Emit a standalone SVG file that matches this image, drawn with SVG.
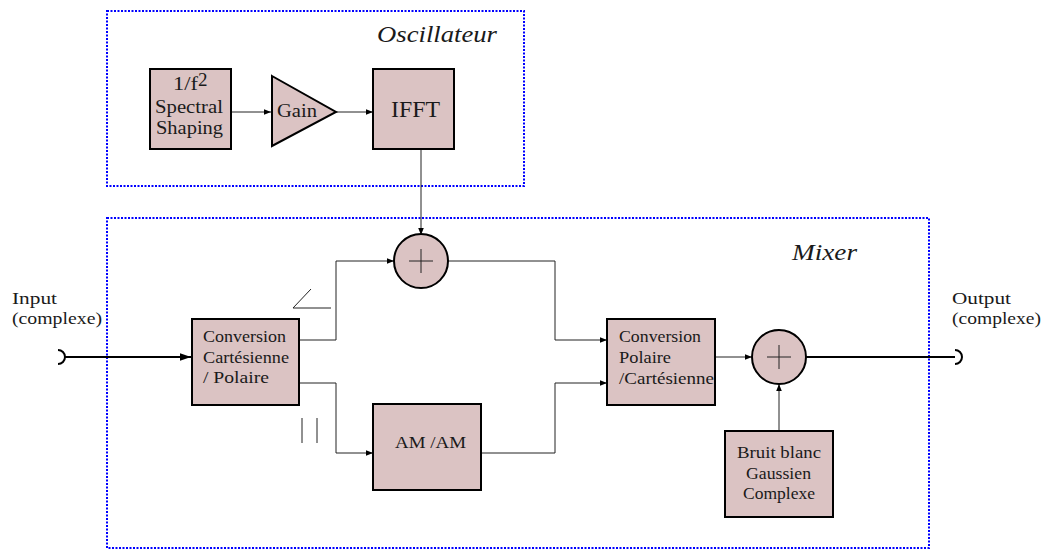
<svg xmlns="http://www.w3.org/2000/svg" width="1045" height="549" viewBox="0 0 1045 549">
<style>
text{font-family:"Liberation Serif","Times New Roman",serif;fill:#1a1a1a}
.blk{fill:#dbc3c3;stroke:#000;stroke-width:2}
.grp{fill:none;stroke:#0000ff;stroke-width:2;stroke-dasharray:2 1.5}
.wire{fill:none;stroke:#222;stroke-width:1}
.thick{fill:none;stroke:#000;stroke-width:2}
.t16{font-size:17px}
.t18{font-size:19px}
.it{font-style:italic;font-size:23px}
</style>
<defs>
<marker id="ar" viewBox="0 0 10 10" refX="10" refY="5" markerWidth="7" markerHeight="7" markerUnits="userSpaceOnUse" orient="auto"><path d="M0,1 L10,5 L0,9 Z" fill="#000"/></marker>
<marker id="arb" viewBox="0 0 10 10" refX="10" refY="5" markerWidth="11" markerHeight="11" markerUnits="userSpaceOnUse" orient="auto"><path d="M0,1.5 L10,5 L0,8.5 Z" fill="#000"/></marker>
</defs>
<rect width="1045" height="549" fill="#fff"/>

<g id="oscillateur">
<rect class="grp" x="107" y="11" width="417" height="175"/>
<text class="it" x="377" y="42" textLength="120" lengthAdjust="spacingAndGlyphs">Oscillateur</text>
</g>
<g id="mixer">
<rect class="grp" x="107" y="218" width="822" height="330"/>
<text class="it" x="792" y="260" textLength="65" lengthAdjust="spacingAndGlyphs">Mixer</text>
</g>

<g id="connectors">
<line class="wire" x1="231" y1="112" x2="271" y2="112" marker-end="url(#ar)"/>
<line class="wire" x1="336" y1="112" x2="373" y2="112" marker-end="url(#ar)"/>
<line class="wire" x1="421" y1="149" x2="421" y2="235" marker-end="url(#ar)"/>
<line class="thick" x1="65" y1="357" x2="191" y2="357" marker-end="url(#arb)"/>
<path class="thick" d="M58,350 A7,7 0 0 1 58,364"/>
<polyline class="wire" points="299,340 336,340 336,261 394,261" marker-end="url(#ar)"/>
<polyline class="wire" points="299,383 336,383 336,453 373,453" marker-end="url(#ar)"/>
<polyline class="wire" points="448,261 555,261 555,340 607,340" marker-end="url(#ar)"/>
<polyline class="wire" points="481,453 555,453 555,383 607,383" marker-end="url(#ar)"/>
<line class="wire" x1="715" y1="357" x2="752" y2="357" marker-end="url(#ar)"/>
<line class="wire" x1="779" y1="431" x2="779" y2="384" marker-end="url(#ar)"/>
<line class="thick" x1="806" y1="357" x2="955" y2="357"/>
<path class="thick" d="M955,350 A7,7 0 0 1 955,364"/>
<polyline class="wire" points="311,289 293,308 331,308"/>
<line class="wire" x1="302" y1="418" x2="302" y2="443"/>
<line class="wire" x1="317" y1="418" x2="317" y2="443"/>
</g>

<g id="spectral">
<rect class="blk" x="150" y="69" width="81" height="80"/>
<text class="t18" x="173" y="90" textLength="25" lengthAdjust="spacingAndGlyphs">1/f</text>
<text class="t18" x="198" y="86">2</text>
<text class="t18" x="155" y="113" textLength="68" lengthAdjust="spacingAndGlyphs">Spectral</text>
<text class="t18" x="156" y="134" textLength="67" lengthAdjust="spacingAndGlyphs">Shaping</text>
</g>
<g id="gain">
<polygon class="blk" points="272,76 336,112 272,146"/>
<text class="t18" x="277" y="117" textLength="40" lengthAdjust="spacingAndGlyphs">Gain</text>
</g>
<g id="ifft">
<rect class="blk" x="373" y="69" width="81" height="80"/>
<text x="391" y="117" font-size="23" textLength="49" lengthAdjust="spacingAndGlyphs">IFFT</text>
</g>
<g id="sum1">
<circle class="blk" cx="421" cy="261" r="27"/>
<path class="wire" d="M409,261 H433 M421,249 V273" stroke="#000"/>
</g>
<g id="cart2pol">
<rect class="blk" x="192" y="319" width="107" height="86"/>
<text class="t16" x="203" y="342" textLength="83" lengthAdjust="spacingAndGlyphs">Conversion</text>
<text class="t16" x="203" y="363" textLength="86" lengthAdjust="spacingAndGlyphs">Cartésienne</text>
<text class="t16" x="203" y="383" textLength="66" lengthAdjust="spacingAndGlyphs">/ Polaire</text>
</g>
<g id="amam">
<rect class="blk" x="373" y="404" width="108" height="86"/>
<text class="t16" x="395" y="448" textLength="71" lengthAdjust="spacingAndGlyphs">AM /AM</text>
</g>
<g id="pol2cart">
<rect class="blk" x="607" y="319" width="108" height="86"/>
<text class="t16" x="619" y="342" textLength="82" lengthAdjust="spacingAndGlyphs">Conversion</text>
<text class="t16" x="619" y="363" textLength="52" lengthAdjust="spacingAndGlyphs">Polaire</text>
<text class="t16" x="619" y="384" textLength="95" lengthAdjust="spacingAndGlyphs">/Cartésienne</text>
</g>
<g id="sum2">
<circle class="blk" cx="779" cy="357" r="27"/>
<path class="wire" d="M767,357 H791 M779,345 V369" stroke="#000"/>
</g>
<g id="bruit">
<rect class="blk" x="725" y="431" width="108" height="86"/>
<text class="t16" x="737" y="458" textLength="84" lengthAdjust="spacingAndGlyphs">Bruit blanc</text>
<text class="t16" x="746" y="479" textLength="65" lengthAdjust="spacingAndGlyphs">Gaussien</text>
<text class="t16" x="743" y="499" textLength="72" lengthAdjust="spacingAndGlyphs">Complexe</text>
</g>
<g id="input">
<text class="t16" x="12" y="304" textLength="45" lengthAdjust="spacingAndGlyphs">Input</text>
<text class="t16" x="12" y="324" textLength="90" lengthAdjust="spacingAndGlyphs">(complexe)</text>
</g>
<g id="output">
<text class="t16" x="952" y="304" textLength="59" lengthAdjust="spacingAndGlyphs">Output</text>
<text class="t16" x="952" y="324" textLength="89" lengthAdjust="spacingAndGlyphs">(complexe)</text>
</g>
</svg>
